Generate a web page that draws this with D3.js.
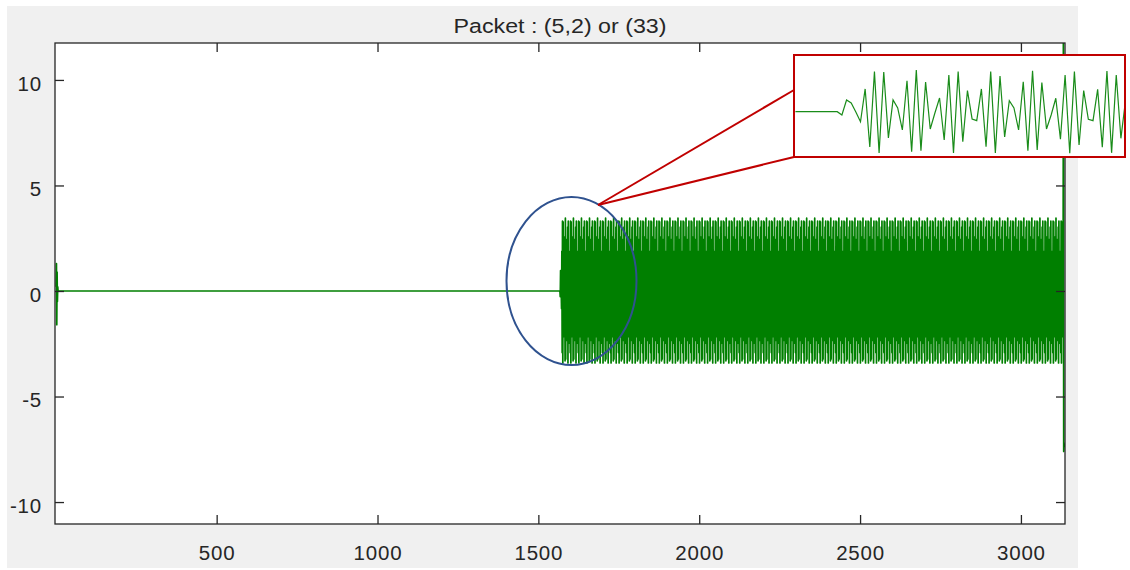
<!DOCTYPE html>
<html>
<head>
<meta charset="utf-8">
<script src="https://d3js.org/d3.v7.min.js"></script>
<style>
  body { margin: 0; background: #fff; }
  svg { display: block; }
  .tick text { font-family: "Liberation Sans", Arial, sans-serif; fill: #262626; }
</style>
</head>
<body>
<div id="chart"></div>
<script>
  // ---- data ----
  var titleText = "Packet : (5,2) or (33)";
  var xTicks = [500, 1000, 1500, 2000, 2500, 3000];
  var yTicks = [-10, -5, 0, 5, 10];

  // start of the trace: short spike then flat zero up to the burst
  var headSamples = [1, 2, 3, 4, 5, 6, 7, 1566];
  var headValues  = [0.2, 1.3, -1.6, 0.9, -0.5, 0.2, 0, 0];

  // samples shown in the zoomed box (one per sample, start of the burst)
  var insetValues = [0, 0, 0, 0, 0, 0, 0, 0, 0, 0,
    -0.27, 0.97, 0.72, -0.02, -0.83,
    1.88, -2.92, 3.31, -3.41, 3.28, -2.17, 0.97, 0.31, -1.51, 2.56,
    -3.31, 3.45, -3.22, 2.45, -1.43, -0.11, 1.13, -2.34, 3.03, -3.41,
    3.31, -2.48, 1.74, -0.60, -0.74, 1.88, -2.89, 3.31, -3.41, 2.95,
    -2.09, 0.91, 0.31, -1.51, 2.48, -3.22, 3.38, -3.17, 2.40, -1.43,
    -0.27, 1.11, -2.27, 3.03, -3.44, 3.31, -2.75, 1.74, -0.63, -0.74,
    1.85, -2.93, 3.36, -3.40, 3.03, -2.20, 0.97];

  // the zoom shows the burst repeats every 25 samples after its onset
  var burstStart = 1567;      // matches insetValues[9]
  var burstEnd = 3131;
  var periodFirst = 15, periodLen = 25;

  // end of the trace: big spike
  var tailSamples = [3132, 3133, 3134, 3135];
  var tailValues  = [12.5, -7.6, -7.2, -7.4];

  // ---- build trace ----
  var trace = headSamples.map(function(s, i) { return [s, headValues[i]]; });
  for (var s = burstStart; s <= burstEnd; s++) {
    var k = s - burstStart + 9;
    var v = k < periodFirst + periodLen ? insetValues[k]
          : insetValues[periodFirst + (k - periodFirst) % periodLen];
    trace.push([s, v]);
  }
  tailSamples.forEach(function(s, i) { trace.push([s, tailValues[i]]); });

  var W = 1130, H = 570;
  var svg = d3.select("#chart").append("svg")
    .attr("width", W).attr("height", H);

  // figure background
  svg.append("rect").attr("x", 7).attr("y", 6)
    .attr("width", 1071).attr("height", 562).attr("fill", "#f0f0f0");

  var L = 55, R = 1065, T = 43, B = 524;
  var x = d3.scaleLinear().domain([-2.5, 3137]).range([L, R]);
  var y = d3.scaleLinear().domain([-11.04, 11.75]).range([B, T]);

  svg.append("rect").attr("x", L).attr("y", T)
    .attr("width", R - L).attr("height", B - T).attr("fill", "#fff");

  svg.append("clipPath").attr("id", "plotclip")
    .append("rect").attr("x", L).attr("y", T)
    .attr("width", R - L).attr("height", B - T);

  var line = d3.line().x(function(d) { return x(d[0]); }).y(function(d) { return y(d[1]); });

  svg.append("path")
    .datum(trace)
    .attr("clip-path", "url(#plotclip)")
    .attr("d", line)
    .attr("fill", "none")
    .attr("stroke", "#007f00")
    .attr("stroke-width", 1.7)
    .attr("stroke-linejoin", "round");

  // axes (ticks inward on all four sides)
  var fmt = function(d) { return String(d); };
  var gb = svg.append("g").attr("transform", "translate(0," + B + ")")
    .call(d3.axisBottom(x).tickValues(xTicks).tickFormat(fmt).tickSizeInner(-9).tickSizeOuter(0));
  var gt = svg.append("g").attr("transform", "translate(0," + T + ")")
    .call(d3.axisTop(x).tickValues(xTicks).tickSizeInner(-9).tickSizeOuter(0).tickFormat(""));
  var gl = svg.append("g").attr("transform", "translate(" + L + ",0)")
    .call(d3.axisLeft(y).tickValues(yTicks).tickFormat(fmt).tickSizeInner(-9).tickSizeOuter(0).tickPadding(13));
  var gr = svg.append("g").attr("transform", "translate(" + R + ",0)")
    .call(d3.axisRight(y).tickValues(yTicks).tickSizeInner(-9).tickSizeOuter(0).tickFormat(""));

  [gb, gt, gl, gr].forEach(function(g) {
    g.select(".domain").remove();
    g.selectAll(".tick line").attr("stroke", "#262626").attr("stroke-width", 1.3);
  });
  gb.selectAll(".tick text").attr("y", 36).attr("dy", null)
    .style("font-size", "20.5px").style("letter-spacing", "0.8px");
  gl.selectAll(".tick text").attr("dy", "0.5em")
    .style("font-size", "20.5px").style("letter-spacing", "0.8px");

  svg.append("rect").attr("x", L).attr("y", T)
    .attr("width", R - L).attr("height", B - T)
    .attr("fill", "none").attr("stroke", "#262626").attr("stroke-width", 1.3);

  svg.append("text")
    .attr("x", (L + R) / 2).attr("y", 33)
    .attr("text-anchor", "middle")
    .attr("textLength", 213).attr("lengthAdjust", "spacingAndGlyphs")
    .style("font-family", "'Liberation Sans', Arial, sans-serif")
    .style("font-size", "20.5px").style("fill", "#262626")
    .text(titleText);

  // ---- annotation: ellipse, callout lines, zoom box ----
  svg.append("ellipse")
    .attr("cx", 571.5).attr("cy", 281).attr("rx", 65).attr("ry", 84)
    .attr("fill", "none").attr("stroke", "#2f528f").attr("stroke-width", 2);

  var bx = 794, by = 55, bw = 331, bh = 102;
  svg.append("line").attr("x1", 598).attr("y1", 205).attr("x2", bx).attr("y2", 90)
    .attr("stroke", "#c00000").attr("stroke-width", 2);
  svg.append("line").attr("x1", 598).attr("y1", 205).attr("x2", bx).attr("y2", by + bh)
    .attr("stroke", "#c00000").attr("stroke-width", 2);

  svg.append("rect").attr("x", bx).attr("y", by).attr("width", bw).attr("height", bh)
    .attr("fill", "#fff");

  svg.append("clipPath").attr("id", "insetclip")
    .append("rect").attr("x", bx).attr("y", by).attr("width", bw).attr("height", bh);

  var xi = d3.scaleLinear().domain([0, 71]).range([795.4, 795.4 + 71 * 4.65]);
  var yi = d3.scaleLinear().domain([-3.5, 3.5]).range([111.7 + 3.5 * 12.1, 111.7 - 3.5 * 12.1]);
  var insetLine = d3.line().x(function(d, i) { return xi(i); }).y(function(d) { return yi(d); });

  svg.append("path")
    .datum(insetValues)
    .attr("clip-path", "url(#insetclip)")
    .attr("d", insetLine)
    .attr("fill", "none")
    .attr("stroke", "#1a8c1a")
    .attr("stroke-width", 1.2);

  svg.append("rect").attr("x", bx).attr("y", by).attr("width", bw).attr("height", bh)
    .attr("fill", "none").attr("stroke", "#c00000").attr("stroke-width", 2);
</script>
</body>
</html>
